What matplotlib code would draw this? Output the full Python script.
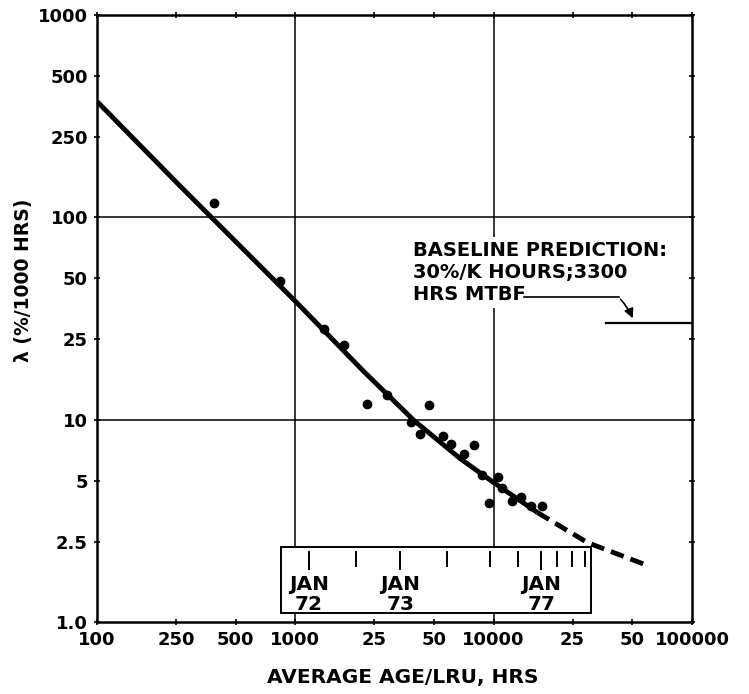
import matplotlib
matplotlib.use('Agg')
import matplotlib.pyplot as plt
from matplotlib.patches import Rectangle

# ── Data ──────────────────────────────────────────────────────────────
age_hrs = [390, 834, 1400, 1766, 2300, 2900, 4710, 3840, 4250, 5570, 6110,
           7080, 7960, 8750, 10500, 9460, 11070, 12420, 13790, 15380, 17470]
lam     = [118, 48.7, 28.1, 23.4, 11.9, 13.3, 11.8, 9.74, 8.5, 8.27, 7.6,
           6.78, 7.46, 5.33, 5.19, 3.86, 4.58, 3.98, 4.13, 3.73, 3.76]

fit_x    = [100, 262, 1000, 2215, 3955, 6810, 10000, 16600]
fit_y    = [374, 143, 38.5, 17.3, 9.93, 6.40, 4.89, 3.48]
extrap_x = [16600, 29700, 57400]
extrap_y = [3.48, 2.47, 1.93]

baseline_lam = 30
baseline_x   = [36800, 100000]

xticks      = [100, 250, 500, 1000, 2500, 5000, 10000, 25000, 50000, 100000]
xticklabels = ['100', '250', '500', '1000', '25', '50', '10000', '25', '50', '100000']
yticks      = [1, 2.5, 5, 10, 25, 50, 100, 250, 500, 1000]
yticklabels = ['1.0', '2.5', '5', '10', '25', '50', '100', '250', '500', '1000']

# calendar marks on the inset strip (hours), long marks = January
cal_marks  = [1167, 2032, 3390, 5790, 9570, 13270, 17420, 20800, 24700, 28840]
cal_jan    = [True, False, True, False, False, False, True, False, False, False]
jan_years  = ['72', '73', '77']
jan_x      = [1167, 3390, 17420]

plt.rcParams['font.family'] = 'DejaVu Sans'
plt.rcParams['font.weight'] = 'bold'

fig = plt.figure(figsize=(7.49, 6.94), dpi=100)
ax = fig.add_axes([0.1295, 0.1037, 0.7944, 0.8747])
ax.set_xscale('log')
ax.set_yscale('log')
ax.set_xlim(100, 100000)
ax.set_ylim(1, 1000)

# ── Grid at decades ───────────────────────────────────────────────────
for gx in [1000, 10000]:
    ax.axvline(gx, color='black', lw=1.1, zorder=1)
for gy in [10, 100]:
    ax.axhline(gy, color='black', lw=1.1, zorder=1)

# ── Fit line and points ───────────────────────────────────────────────
ax.plot(fit_x, fit_y, color='black', lw=3.5, solid_capstyle='butt',
        solid_joinstyle='round', zorder=4)
ax.plot(extrap_x, extrap_y, color='black', lw=3.5, ls=(0, (2.8, 1.5)), zorder=4)
ax.plot(age_hrs, lam, 'o', color='black', ms=6, zorder=5)

# ── Baseline prediction ───────────────────────────────────────────────
ax.plot(baseline_x, [baseline_lam] * 2, color='black', lw=1.6, zorder=4)
ax.text(3900, 53.5, 'BASELINE PREDICTION:\n30%/K HOURS;3300\nHRS MTBF',
        fontsize=14, ha='left', va='center', linespacing=1.2,
        bbox=dict(facecolor='white', edgecolor='none', pad=3), zorder=3)
ax.plot([14300, 42700], [40.3, 40.3], color='black', lw=1.2, zorder=4)
ax.annotate('', xy=(50900, 30.8), xytext=(42700, 40.3),
            arrowprops=dict(arrowstyle='-|>', color='black', lw=1.2,
                            mutation_scale=14,
                            connectionstyle='arc3,rad=-0.1'), zorder=4)

# ── Inset calendar strip ──────────────────────────────────────────────
box = Rectangle((0.310, 0.0153), 0.521, 0.109, transform=ax.transAxes,
                facecolor='white', edgecolor='black', lw=1.4, zorder=3)
ax.add_patch(box)
xtr = ax.get_xaxis_transform()
for mx, long_mark in zip(cal_marks, cal_jan):
    ax.plot([mx, mx], [0.116, 0.087 if long_mark else 0.093],
            color='black', lw=1.4, transform=xtr, zorder=4)
for lx, yr in zip(jan_x, jan_years):
    ax.text(lx, 0.053, 'JAN', transform=xtr, fontsize=14.5, ha='center',
            va='baseline', zorder=4)
    ax.text(lx, 0.020, yr, transform=xtr, fontsize=14.5, ha='center',
            va='baseline', zorder=4)

# ── Axes styling ──────────────────────────────────────────────────────
ax.set_xticks(xticks)
ax.set_xticklabels(xticklabels)
ax.set_yticks(yticks)
ax.set_yticklabels(yticklabels)
ax.minorticks_off()
ax.tick_params(which='major', direction='inout', length=5, width=1.2,
               labelsize=13, top=True, right=True, pad=4)
for s in ax.spines.values():
    s.set_linewidth(1.8)

ax.set_xlabel('AVERAGE AGE/LRU, HRS', fontsize=14.5, fontweight='bold')
ax.xaxis.set_label_coords(0.514, -0.075)
ax.set_ylabel('λ (%/1000 HRS)', fontsize=13.5, fontweight='bold')
ax.yaxis.set_label_coords(-0.108, 0.563)

fig.savefig('out.png', dpi=100)
